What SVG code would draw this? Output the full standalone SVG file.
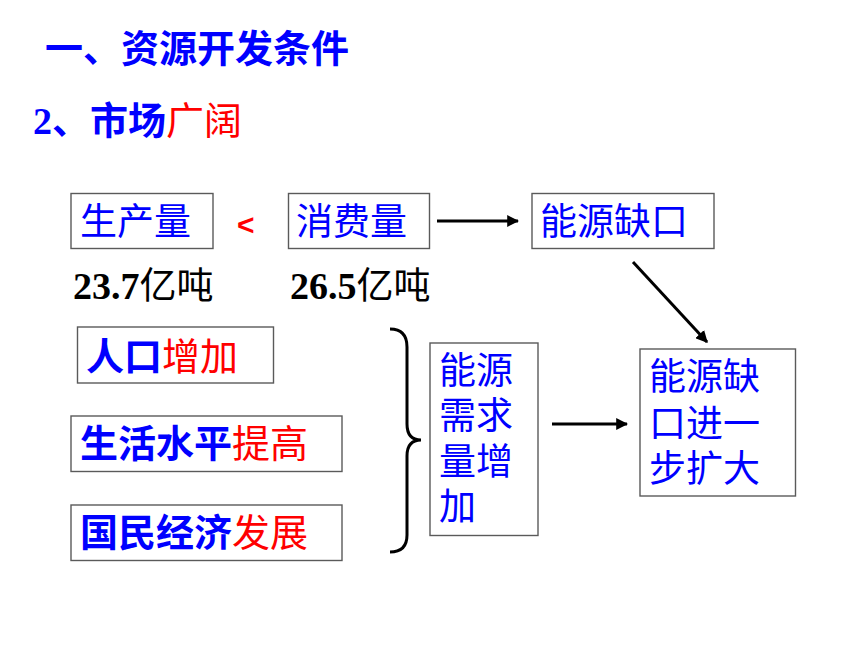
<svg xmlns="http://www.w3.org/2000/svg" width="860" height="645" viewBox="0 0 860 645">
<style>
.box{fill:#fff;stroke:#5a5a5a;stroke-width:1.4}
.cjk{font-family:"Noto Sans CJK SC","Liberation Sans",sans-serif;font-size:37px}
.b{font-weight:bold}
.blue{fill:#0000ff}
.red{fill:#ff0000}
.blk{fill:#000}
.num{font-family:"Liberation Serif","Noto Sans CJK SC",serif;font-weight:bold;font-size:38px}
.conn{stroke:#000;stroke-width:3;fill:none}
</style>
<defs>
<marker id="ah" viewBox="0 0 10 10" refX="9" refY="5" markerWidth="4" markerHeight="4" markerUnits="strokeWidth" orient="auto">
<path d="M0,0 L10,5 L0,10 Z" fill="#000"/>
</marker>
</defs>
<rect width="860" height="645" fill="#fff"/>

<g id="title">
<text class="cjk b blue" x="45" y="62" style="font-size:38px">一、资源开发条件</text>
</g>
<g id="subtitle">
<text x="33" y="134"><tspan class="num blue">2</tspan><tspan class="cjk b blue" style="font-size:38px">、市场</tspan><tspan class="cjk red" style="font-size:38px">广阔</tspan></text>
</g>

<g id="node-production">
<rect class="box" x="71" y="193.5" width="142" height="55"/>
<text class="cjk blue" x="80" y="235">生产量</text>
</g>
<g id="less-than">
<text x="237" y="235" style="font-family:'Liberation Sans',sans-serif;font-weight:bold;font-size:30px" class="red">&lt;</text>
</g>
<g id="node-consumption">
<rect class="box" x="288.5" y="193.5" width="141" height="55"/>
<text class="cjk blue" x="296" y="235">消费量</text>
</g>
<g id="node-gap">
<rect class="box" x="532" y="193.5" width="182" height="55"/>
<text class="cjk blue" x="540" y="235">能源缺口</text>
</g>
<g id="label-production">
<text x="73" y="299"><tspan class="num blk">23.7</tspan><tspan class="cjk blk">亿吨</tspan></text>
</g>
<g id="label-consumption">
<text x="290" y="299"><tspan class="num blk">26.5</tspan><tspan class="cjk blk">亿吨</tspan></text>
</g>

<g id="node-population">
<rect class="box" x="77.5" y="327" width="196" height="56"/>
<text class="cjk" x="86" y="370" style="font-size:38px"><tspan class="b blue">人口</tspan><tspan class="red">增加</tspan></text>
</g>
<g id="node-living">
<rect class="box" x="71" y="416" width="271" height="55.5"/>
<text class="cjk" x="80" y="457" style="font-size:38px"><tspan class="b blue">生活水平</tspan><tspan class="red">提高</tspan></text>
</g>
<g id="node-economy">
<rect class="box" x="71" y="505" width="271" height="55.5"/>
<text class="cjk" x="80" y="546" style="font-size:38px"><tspan class="b blue">国民经济</tspan><tspan class="red">发展</tspan></text>
</g>

<g id="node-demand">
<rect class="box" x="430" y="343" width="108" height="192.5"/>
<text class="cjk blue" x="439" y="384">能源</text>
<text class="cjk blue" x="439" y="429">需求</text>
<text class="cjk blue" x="439" y="475">量增</text>
<text class="cjk blue" x="439" y="520">加</text>
</g>
<g id="node-bigger-gap">
<rect class="box" x="640" y="349" width="155.5" height="147"/>
<text class="cjk blue" x="649" y="390">能源缺</text>
<text class="cjk blue" x="649" y="437">口进一</text>
<text class="cjk blue" x="649" y="482">步扩大</text>
</g>

<g id="connectors">
<line class="conn" x1="437" y1="221" x2="518" y2="221" marker-end="url(#ah)"/>
<line class="conn" x1="633" y1="262" x2="707" y2="342" marker-end="url(#ah)"/>
<line class="conn" x1="552" y1="424" x2="627" y2="424" marker-end="url(#ah)"/>
<path class="conn" d="M390,329 Q407,329 407,347 L407,424 Q407,440 421,440 Q407,440 407,456 L407,535 Q407,552 390,552"/>
</g>
</svg>
